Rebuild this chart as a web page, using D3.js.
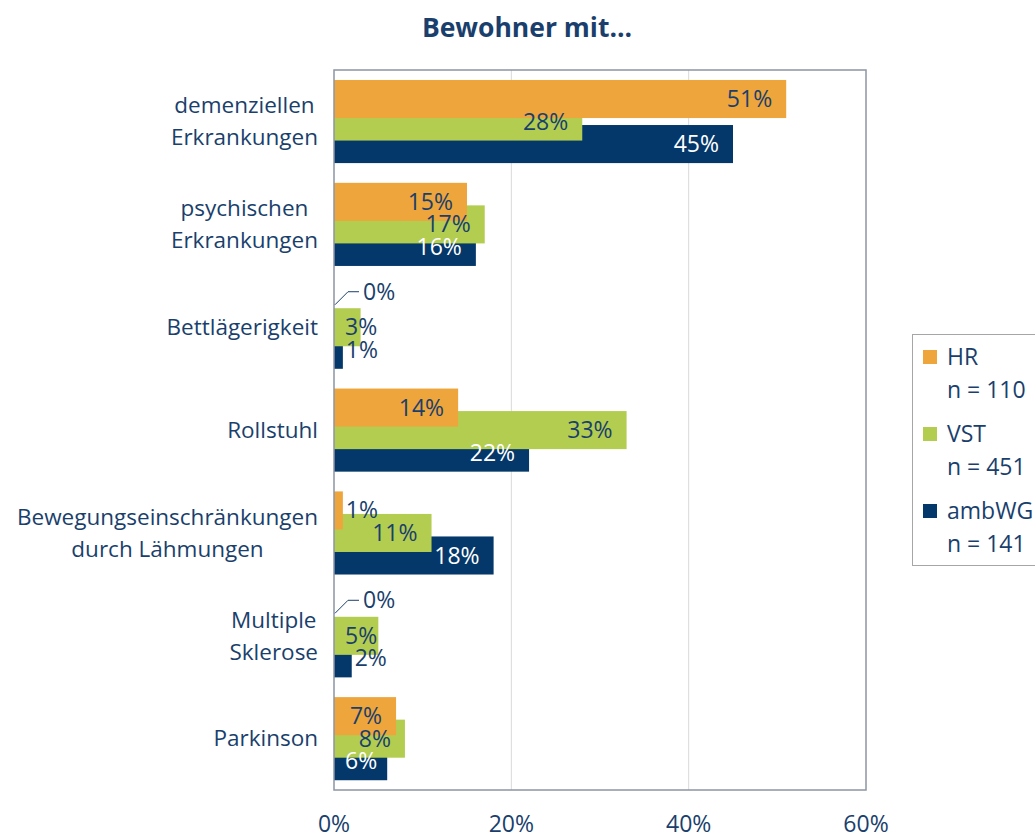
<!DOCTYPE html>
<html lang="de">
<head>
<meta charset="utf-8" />
<title>Bewohner mit...</title>
<script src="https://d3js.org/d3.v7.min.js"></script>
<style>
body { margin: 0; background: #fff; font-family: 'Open Sans', sans-serif; }
svg { display: block; }
</style>
</head>
<body>
<svg width="1035" height="836"></svg>
<script>
// data
var categories = [
  ['demenziellen', 'Erkrankungen'],
  ['psychischen ', 'Erkrankungen'],
  ['Bettlägerigkeit'],
  ['Rollstuhl'],
  ['Bewegungseinschränkungen', 'durch Lähmungen'],
  ['Multiple', 'Sklerose'],
  ['Parkinson']
];
var seriesNames = ['HR', 'VST', 'ambWG'];
var seriesN = ['n = 110', 'n = 451', 'n = 141'];
var hrValues = [51, 15, 0, 14, 1, 0, 7];
var vstValues = [28, 17, 3, 33, 11, 5, 8];
var ambwgValues = [45, 16, 1, 22, 18, 2, 6];
var xTicks = [0, 20, 40, 60];

var colors = ['#eea53c', '#b3cd51', '#04376a'];
var textColor = '#1a3f6c';
var series = [hrValues, vstValues, ambwgValues];

var svg = d3.select('svg');
var plotLeft = 334, plotRight = 866, plotTop = 70, plotBottom = 790;

var x = d3.scaleLinear().domain([0, 60]).range([plotLeft, plotRight]);
var y = d3.scaleBand().domain(d3.range(categories.length)).range([plotTop, plotBottom]);
var band = y.bandwidth();
var barH = band * 0.37;
var off = d3.scaleLinear().domain([0, 2]).range([band * 0.097, band * 0.535]);

// title
svg.append('text')
  .attr('x', 527).attr('y', 28)
  .attr('dy', '0.35em')
  .attr('text-anchor', 'middle')
  .attr('font-size', 26.5).attr('font-weight', 'bold')
  .attr('fill', textColor)
  .text('Bewohner mit...');

// grid
svg.append('g').selectAll('line')
  .data([20, 40])
  .join('line')
  .attr('x1', d => x(d)).attr('x2', d => x(d))
  .attr('y1', plotTop).attr('y2', plotBottom)
  .attr('stroke', '#d9d9d9').attr('stroke-width', 1);

// bars (ambWG at the back, HR in front)
var barG = svg.append('g');
[2, 1, 0].forEach(function (s) {
  barG.selectAll('.bar' + s)
    .data(series[s])
    .join('rect')
    .attr('class', 'bar' + s)
    .attr('x', x(0))
    .attr('y', (d, i) => y(i) + off(s))
    .attr('width', d => x(d) - x(0))
    .attr('height', barH)
    .attr('fill', colors[s]);
});

// plot border
svg.append('rect')
  .attr('x', plotLeft).attr('y', plotTop)
  .attr('width', plotRight - plotLeft).attr('height', plotBottom - plotTop)
  .attr('fill', 'none').attr('stroke', '#8d95a4').attr('stroke-width', 1.5);

// value labels
var labG = svg.append('g').attr('font-size', 23);
[0, 1, 2].forEach(function (s) {
  series[s].forEach(function (v, i) {
    var cy = y(i) + off(s) + barH / 2;
    if (v === 0) {
      var x0 = x(0), y0 = cy;
      labG.append('path')
        .attr('d', 'M' + (x0 + 1) + ',' + y0 + 'L' + (x0 + 14) + ',' + (y0 - 13) + 'H' + (x0 + 25))
        .attr('fill', 'none').attr('stroke', textColor).attr('stroke-width', 1);
      labG.append('text')
        .attr('x', x0 + 29).attr('y', y0 - 13)
        .attr('dy', '0.35em')
        .attr('fill', textColor)
        .text(v + '%');
      return;
    }
    var t = labG.append('text')
      .attr('y', cy).attr('dy', '0.35em')
      .text(v + '%');
    var w = t.node().getComputedTextLength();
    var start;
    if (x(v) - x(0) < 20) {
      start = x(v) + 3;
    } else {
      start = Math.max(x(v) - 14 - w, x(0) + 11);
    }
    t.attr('x', start);
    var inside = start + w <= x(v);
    t.attr('fill', s === 2 && inside ? '#ffffff' : textColor);
  });
});

// category labels
var catG = svg.append('g').attr('font-size', 22.5).attr('fill', textColor);
categories.forEach(function (lines, i) {
  var g = catG.append('g');
  var cy = y(i) + band / 2;
  var texts = lines.map(function (l, k) {
    return g.append('text')
      .attr('y', cy + (k - (lines.length - 1) / 2) * 32)
      .attr('dy', '0.35em')
      .attr('text-anchor', 'middle')
      .text(l);
  });
  var maxW = d3.max(texts, t => t.node().getComputedTextLength());
  texts.forEach(t => t.attr('x', 318 - maxW / 2));
});

// x axis labels
svg.append('g').selectAll('text')
  .data(xTicks)
  .join('text')
  .attr('x', d => x(d)).attr('y', 824)
  .attr('dy', '0.35em')
  .attr('text-anchor', 'middle')
  .attr('font-size', 23)
  .attr('fill', textColor)
  .text(d => d + '%');

// legend
var leg = svg.append('g');
leg.append('rect')
  .attr('x', 912.5).attr('y', 334.5)
  .attr('width', 140).attr('height', 231)
  .attr('fill', '#fff').attr('stroke', '#a6a6a6');
seriesNames.forEach(function (name, k) {
  var ly = 357 + k * 77;
  leg.append('rect')
    .attr('x', 923).attr('y', ly - 7)
    .attr('width', 14).attr('height', 14)
    .attr('fill', colors[k]);
  leg.append('text')
    .attr('x', 947).attr('y', ly).attr('dy', '0.35em')
    .attr('font-size', 23).attr('fill', textColor)
    .text(name);
  leg.append('text')
    .attr('x', 947).attr('y', ly + 33).attr('dy', '0.35em')
    .attr('font-size', 23).attr('fill', textColor)
    .text(seriesN[k]);
});
</script>
</body>
</html>
